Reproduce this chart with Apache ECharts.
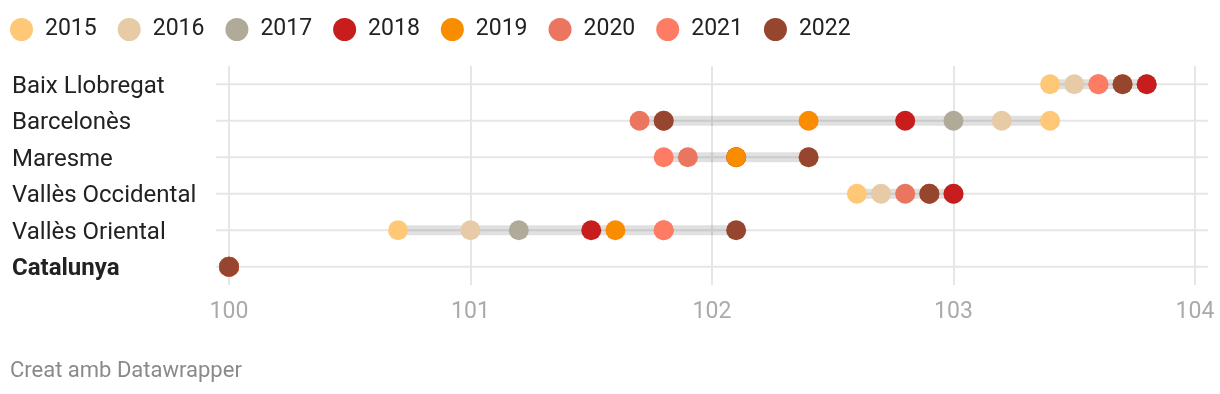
<!DOCTYPE html>
<html><head><meta charset="utf-8">
<script src="https://cdn.jsdelivr.net/npm/echarts@6/dist/echarts.min.js"></script>
<style>html,body{margin:0;padding:0;background:#fff}#c{width:1220px;height:394px}</style>
</head><body><div id="c"></div>
<script>
const regions = ['Baix Llobregat','Barcelonès','Maresme','Vallès Occidental','Vallès Oriental','Catalunya'];
const years = ['2015','2016','2017','2018','2019','2020','2021','2022'];
const colors = ['#fec877','#e7caa6','#b0aa98','#c71e1d','#fa8c00','#ea7660','#fe7b64','#96462f'];
// values per year, in region order
const v2015 = [103.4, 103.4, 102.4, 102.6, 100.7, 100];
const v2016 = [103.5, 103.2, 102.4, 102.7, 101.0, 100];
const v2017 = [103.8, 103.0, 102.1, 103.0, 101.2, 100];
const v2018 = [103.8, 102.8, 102.1, 103.0, 101.5, 100];
const v2019 = [103.7, 102.4, 102.1, 102.9, 101.6, 100];
const v2020 = [103.6, 101.7, 101.9, 102.8, 101.8, 100];
const v2021 = [103.6, 101.8, 101.8, 102.9, 101.8, 100];
const v2022 = [103.7, 101.8, 102.4, 102.9, 102.1, 100];
const xTicks = [100, 101, 102, 103, 104];
const allVals = [v2015, v2016, v2017, v2018, v2019, v2020, v2021, v2022];

const ranges = regions.map((r, i) => {
  const vs = allVals.map(a => a[i]);
  return [Math.min(...vs), Math.max(...vs), i];
});

const chart = echarts.init(document.getElementById('c'), null, {renderer: 'canvas'});
const FONT = 'Roboto';
const series = [];
// row lines
series.push({
  type: 'custom', silent: true, z: 1,
  data: regions.map((r, i) => [xTicks[0], i]),
  renderItem: function (params, api) {
    const p0 = api.coord([xTicks[0], api.value(1)]);
    const p1 = api.coord([xTicks[xTicks.length - 1], api.value(1)]);
    return {type: 'line', shape: {x1: p0[0] - 13, y1: p0[1], x2: p1[0] + 13, y2: p1[1]},
      style: {stroke: '#e6e6e6', lineWidth: 2}};
  }
});
// range bars
series.push({
  type: 'custom', silent: true, z: 2,
  data: ranges,
  renderItem: function (params, api) {
    const a = api.coord([api.value(0), api.value(2)]);
    const b = api.coord([api.value(1), api.value(2)]);
    return {type: 'rect', shape: {x: a[0], y: a[1] - 5, width: b[0] - a[0], height: 10},
      style: {fill: 'rgba(0,0,0,0.12)'}};
  }
});
years.forEach((y, k) => {
  series.push({
    name: y, type: 'scatter', symbolSize: 20, z: 3 + k,
    itemStyle: {color: colors[k], opacity: 1},
    data: allVals[k].map((v, i) => [v, i])
  });
});

chart.setOption({
  animation: false,
  color: colors,
  textStyle: {fontFamily: FONT},
  legend: {
    top: 18, left: 10, padding: 0, icon: 'circle', itemWidth: 23, itemHeight: 23, itemGap: 21,
    textStyle: {fontSize: 23, color: '#222', fontFamily: FONT, padding: [0, 0, 0, 7]},
    data: years
  },
  grid: {left: 229, right: 25, top: 66, bottom: 109, containLabel: false},
  xAxis: {
    type: 'value', min: 100, max: 104, interval: 1,
    axisLine: {show: false}, axisTick: {show: false},
    splitLine: {show: true, lineStyle: {color: '#e6e6e6', width: 2}},
    axisLabel: {fontSize: 23, color: '#aaaaaa', margin: 16, fontFamily: FONT}
  },
  yAxis: {
    type: 'category', inverse: true, data: regions,
    axisLine: {show: false}, axisTick: {show: false}, splitLine: {show: false},
    axisLabel: {
      align: 'left', margin: 217, fontSize: 24, color: '#222', fontFamily: FONT,
      padding: [5, 0, 0, 0],
      formatter: function (v) { return v === 'Catalunya' ? '{b|' + v + '}' : v; },
      rich: {b: {fontWeight: 'bold', fontSize: 24, color: '#222', fontFamily: FONT}}
    }
  },
  graphic: [{type: 'text', left: 10, top: 360,
    style: {text: 'Creat amb Datawrapper', fontSize: 22, fill: '#8a8a8a', fontFamily: FONT}}],
  series: series
});
</script></body></html>
